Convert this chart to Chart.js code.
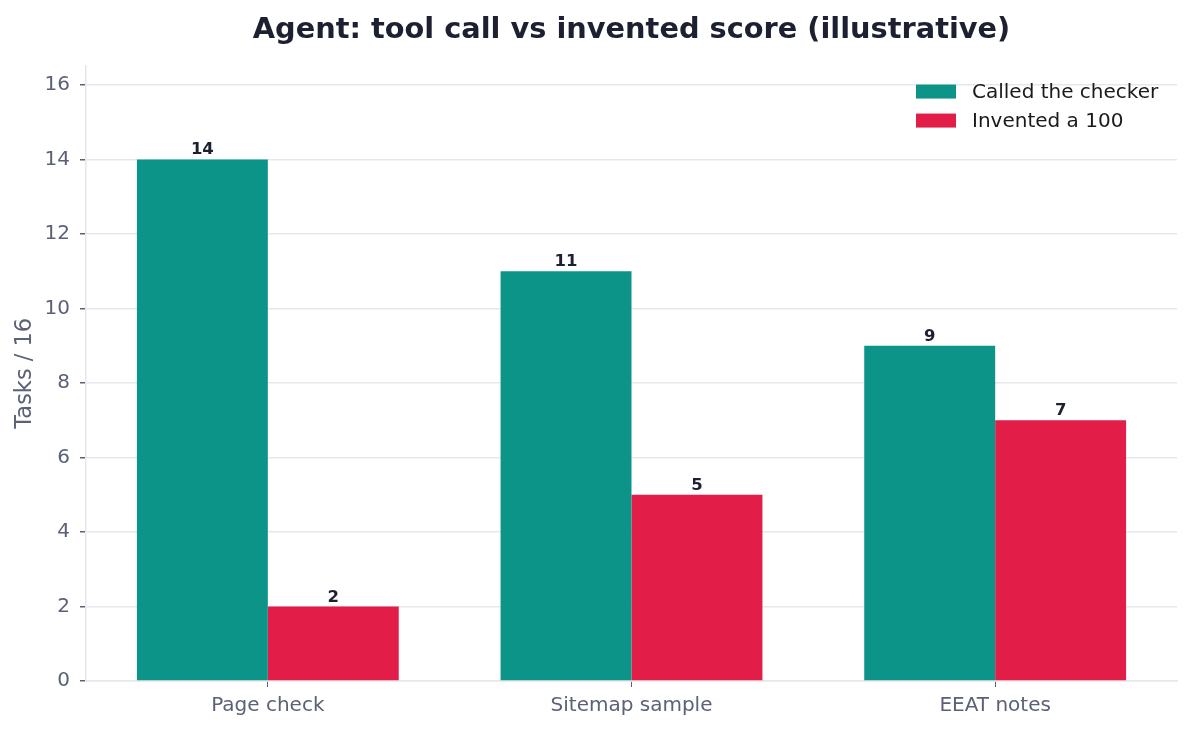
<!DOCTYPE html>
<html>
<head>
<meta charset="utf-8">
<script src="https://cdn.jsdelivr.net/npm/chart.js@4.4.1/dist/chart.umd.min.js"></script>
<style>
  html, body { margin: 0; padding: 0; background: #ffffff; }
  #wrap { width: 1193px; height: 731px; }
</style>
</head>
<body>
<div id="wrap"><canvas id="taskChart"></canvas></div>
<script>
var categories = ['Page check', 'Sitemap sample', 'EEAT notes'];
var calledChecker = [14, 11, 9];
var inventedScore = [2, 5, 7];
var seriesNames = ['Called the checker', 'Invented a 100'];

var tealColor = '#0d9488';
var roseColor = '#e11d48';
var axisGray = '#5b6275';
var gridGray = '#e5e7eb';
var darkText = '#1c2030';

Chart.defaults.font.family = 'DejaVu Sans';

// numbers above each bar
var barLabels = {
    id: 'barLabels',
    afterDatasetsDraw: function (chart) {
        var ctx = chart.ctx;
        ctx.save();
        ctx.font = 'bold 16.5px DejaVu Sans';
        ctx.fillStyle = darkText;
        ctx.textAlign = 'center';
        ctx.textBaseline = 'bottom';
        chart.data.datasets.forEach(function (ds, i) {
            chart.getDatasetMeta(i).data.forEach(function (bar, j) {
                ctx.fillText(ds.data[j], bar.x, bar.y - 1);
            });
        });
        ctx.restore();
    }
};

// legend inside the plot, top right
var insideLegend = {
    id: 'insideLegend',
    afterDraw: function (chart) {
        var ctx = chart.ctx;
        var area = chart.chartArea;
        var x = area.right - 261;
        var y = area.top + 19;
        ctx.save();
        ctx.font = '20px DejaVu Sans';
        ctx.textBaseline = 'middle';
        chart.data.datasets.forEach(function (ds, i) {
            var rowY = y + i * 29;
            ctx.fillStyle = ds.backgroundColor;
            ctx.fillRect(x, rowY, 40, 14);
            ctx.fillStyle = '#1a1a1a';
            ctx.fillText(ds.label, x + 56, rowY + 8);
        });
        ctx.restore();
    }
};

var ctx = document.getElementById('taskChart').getContext('2d');
var chart = new Chart(ctx, {
    type: 'bar',
    data: {
        labels: categories,
        datasets: [{
            label: seriesNames[0],
            data: calledChecker,
            backgroundColor: tealColor
        }, {
            label: seriesNames[1],
            data: inventedScore,
            backgroundColor: roseColor
        }]
    },
    options: {
        responsive: true,
        maintainAspectRatio: false,
        animation: false,
        layout: { padding: { left: 0, right: 16, top: 0, bottom: 0 } },
        datasets: {
            bar: { categoryPercentage: 0.72, barPercentage: 1.0 }
        },
        plugins: {
            legend: { display: false },
            tooltip: { enabled: false },
            title: {
                display: true,
                fullSize: false,
                text: 'Agent: tool call vs invented score (illustrative)',
                color: darkText,
                font: { size: 28.8, weight: 'bold' },
                padding: { top: 13, bottom: 18 }
            }
        },
        scales: {
            x: {
                afterFit: function (scale) { scale.height = 50; },
                grid: {
                    offset: false,
                    drawOnChartArea: false,
                    tickLength: 6,
                    tickColor: axisGray
                },
                border: { color: gridGray, width: 1.5 },
                ticks: { color: axisGray, font: { size: 20 }, padding: 7 }
            },
            y: {
                min: 0,
                max: 16.52,
                afterFit: function (scale) { scale.width = 86; },
                grid: {
                    color: gridGray,
                    lineWidth: 1.5,
                    tickLength: 6,
                    tickColor: axisGray
                },
                border: { color: gridGray, width: 1.5 },
                ticks: {
                    stepSize: 2,
                    includeBounds: false,
                    color: axisGray,
                    font: { size: 20 },
                    padding: 10
                },
                title: {
                    display: true,
                    text: 'Tasks / 16',
                    color: axisGray,
                    font: { size: 22.5 },
                    padding: { top: 12, bottom: 0 }
                }
            }
        }
    },
    plugins: [barLabels, insideLegend]
});
</script>
</body>
</html>
